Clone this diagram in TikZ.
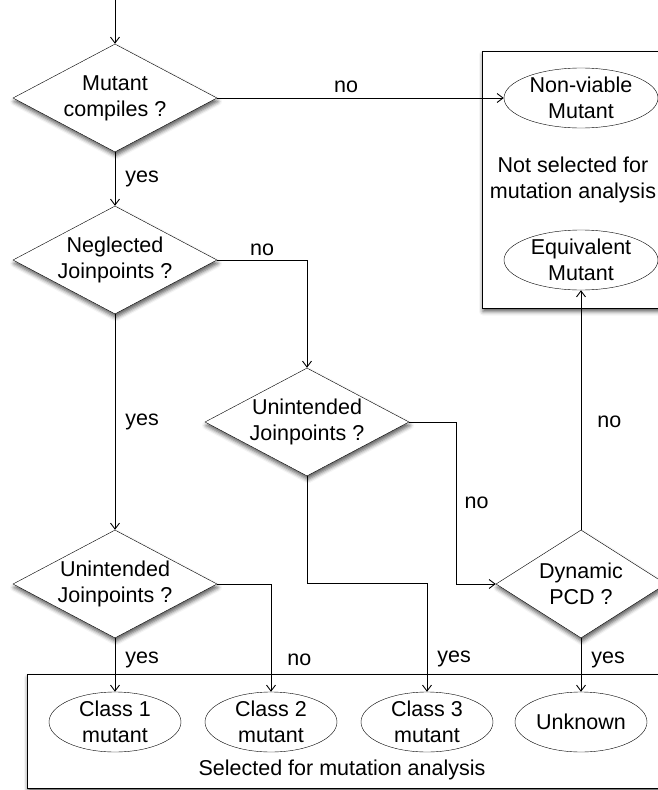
\documentclass[tikz,border=0pt]{standalone}
\usepackage{fontspec}
\setmainfont{Liberation Sans}
\usetikzlibrary{arrows.meta, positioning, shapes.geometric, shadows.blur}

\begin{document}
\begin{tikzpicture}[
  x=1pt, y=1pt,
  font=\fontsize{21.5}{26}\selectfont,
  decision/.style={diamond, draw, fill=white, shape aspect=1.9, inner sep=0pt,
                   minimum width=204pt, minimum height=108pt, align=center,
                   blur shadow={shadow xshift=1pt, shadow yshift=-3.5pt, shadow blur radius=4pt, shadow opacity=65}},
  outcome/.style={ellipse, draw, fill=white, inner sep=-1.5pt,
                  minimum width=132pt, minimum height=60pt, align=center},
  group/.style={draw, fill=white, line width=0.9pt,
                blur shadow={shadow xshift=1pt, shadow yshift=-3.5pt, shadow blur radius=4pt, shadow opacity=65}},
  flow/.style={-{Straight Barb[length=6pt, width=9pt]}, line width=0.9pt},
  lbl/.style={inner sep=2pt}
]
  \useasboundingbox (0,0) rectangle (658,-790);

  \draw[group] (482,-51) rectangle (700,-308);
  \draw[group] (27,-674) rectangle (700,-788);

  \coordinate (start) at (115,0);
  \node[decision] (mc) at (115,-98) {Mutant\\compiles ?};
  \node[decision] (nj) at (115,-260) {Neglected\\Joinpoints ?};
  \node[decision] (u1) at (307,-422) {Unintended\\Joinpoints ?};
  \node[decision] (u2) at (115,-584) {Unintended\\Joinpoints ?};
  \node[decision, minimum width=170pt] (dyn) at (581,-584) {Dynamic\\PCD ?};

  \node[outcome, minimum width=154pt] (nv) at (581,-98) {Non-viable\\Mutant};
  \node[align=center] (notsel) at (573,-180) {Not selected for\\mutation analysis};
  \node[outcome, minimum width=154pt] (eq) at (581,-260) {Equivalent\\Mutant};

  \node[outcome] (c1) at (115,-722) {Class 1\\mutant};
  \node[outcome] (c2) at (271,-722) {Class 2\\mutant};
  \node[outcome] (c3) at (427,-722) {Class 3\\mutant};
  \node[outcome] (unk) at (581,-722) {Unknown};
  \node (sel) at (342,-770) {Selected for mutation analysis};

  \draw[flow] (start) -- (mc.north);
  \draw[flow] (mc.east) -- node[lbl, above=3pt, pos=0.45] {no} (nv.west);
  \draw[flow] (mc.south) -- node[lbl, right=8pt] {yes} (nj.north);
  \draw[flow] (nj.east) -| node[lbl, above=2pt, pos=0.25] {no} (u1.north);
  \draw[flow] (nj.south) -- node[lbl, right=8pt] {yes} (u2.north);
  \draw[flow] (u1.east) -- ++(47,0) |- node[lbl, right=6pt, pos=0.25] {no} (dyn.west);
  \draw[flow] (u1.south) -- ++(0,-107) -| node[lbl, right=8pt, pos=0.85] {yes} (c3.north);
  \draw[flow] (u2.east) -| node[lbl, right=14pt, pos=0.85] {no} (c2.north);
  \draw[flow] (u2.south) -- node[lbl, right=8pt, pos=0.4] {yes} (c1.north);
  \draw[flow] (dyn.south) -- node[lbl, right=8pt, pos=0.4] {yes} (unk.north);
  \draw[flow] (dyn.north) -- node[lbl, right=14pt, pos=0.45] {no} (eq.south);
\end{tikzpicture}
\end{document}
